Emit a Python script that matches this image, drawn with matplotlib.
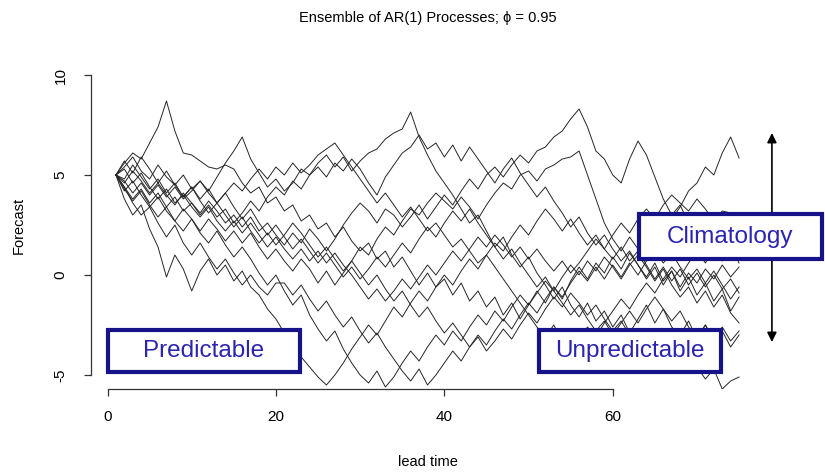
import numpy as np
import matplotlib.pyplot as plt
from matplotlib.patches import Rectangle

# lead times and ensemble members
lead = np.arange(1, 76)

s1 = [5.0, 5.6, 6.1, 5.8, 6.6, 7.4, 8.7, 7.2, 6.1, 6.0,
      5.7, 5.4, 5.3, 5.5, 5.3, 4.6, 4.1, 4.4, 3.6, 3.9,
      3.2, 3.5, 2.7, 3.0, 2.3, 2.6, 1.9, 2.4, 1.7, 1.2,
      1.6, 0.8, 1.2, 0.4, 0.9, 0.2, -0.5, 0.1, -0.6, -0.2,
      -1.0, -0.4, -1.3, -0.8, -1.6, -1.1, -2.0, -1.4, -2.2, -1.5,
      -0.8, -1.4, -0.6, -1.2, -0.3, 0.4, -0.2, 0.6, 0.1, 0.9,
      0.3, 1.1, 0.5, -0.2, 0.4, -0.5, 0.2, -0.8, -0.1, -1.0,
      -0.4, -1.3, -0.7, -1.8, -1.1]
s2 = [5.0, 5.4, 5.9, 5.2, 4.8, 5.5, 4.9, 4.5, 5.0, 4.3,
      4.7, 4.2, 4.9, 5.6, 6.2, 6.9, 5.8, 5.1, 4.4, 4.8,
      4.2, 4.6, 5.3, 5.0, 5.6, 6.0, 5.4, 5.9, 5.2, 5.7,
      6.1, 6.3, 6.8, 7.1, 7.3, 8.15, 6.9, 6.0, 5.2, 4.6,
      4.0, 3.3, 2.6, 3.0, 2.2, 1.4, 1.9, 1.0, 0.4, 0.9,
      0.1, -0.5, -1.2, -0.6, -1.5, -2.1, -1.4, -2.3, -1.8, -2.6,
      -2.0, -2.9, -2.2, -1.5, -2.4, -1.7, -2.6, -3.0, -2.3, -3.2,
      -2.5, -3.4, -2.8, -3.6, -3.0]
s3 = [5.0, 4.4, 3.8, 4.3, 3.6, 4.1, 3.4, 3.9, 3.2, 3.6,
      3.0, 3.5, 2.9, 3.3, 2.6, 3.1, 3.7, 3.2, 3.9, 4.4,
      4.0, 4.7, 4.3, 5.0, 5.4, 4.9, 5.6, 5.2, 5.8, 5.3,
      4.6, 4.0, 4.9, 5.5, 6.1, 6.4, 7.0, 6.3, 6.6, 5.9,
      6.5, 5.7, 6.4, 5.8, 5.2, 4.6, 5.3, 5.85, 5.1, 4.5,
      3.9, 4.4, 3.7, 3.1, 2.4, 2.9, 2.1, 1.5, 2.0, 1.3,
      0.7, 1.2, 0.5, -0.1, 0.6, -0.3, 0.2, -0.6, 0.1, -0.4,
      0.3, -0.2, 0.5, -0.1, 0.4]
s4 = [5.0, 4.6, 5.2, 4.7, 4.1, 4.6, 4.0, 3.5, 4.1, 3.6,
      3.1, 3.7, 3.2, 2.6, 3.0, 2.4, 2.9, 2.2, 2.6, 2.0,
      1.5, 2.1, 1.6, 2.3, 1.8, 1.2, 1.8, 2.5, 3.1, 3.6,
      3.2, 2.6, 3.3, 3.0, 2.4, 2.9, 3.5, 2.8, 3.4, 4.0,
      3.5, 4.2, 4.8, 4.3, 5.0, 5.4, 4.9, 5.5, 6.0, 5.6,
      6.2, 6.4, 6.9, 7.2, 7.8, 8.3, 7.4, 6.2, 5.8, 5.0,
      4.6, 5.8, 6.7, 6.0, 4.9, 3.8, 3.0, 3.5, 2.6, 1.9,
      2.4, 1.6, 0.9, 1.4, 0.6]
s5 = [5.0, 4.2, 4.7, 4.0, 3.4, 3.9, 3.2, 2.7, 3.3, 2.8,
      2.2, 2.8, 2.3, 1.7, 2.2, 1.6, 2.1, 1.4, 0.8, 1.3,
      0.7, 0.2, 0.8, 0.3, -0.4, 0.2, -0.5, 0.1, 0.7, 1.4,
      1.0, 1.8, 2.4, 2.0, 2.7, 3.3, 3.0, 3.6, 4.1, 3.7,
      3.3, 3.9, 3.4, 2.8, 3.5, 4.1, 4.6, 4.3, 5.0, 5.2,
      4.7, 5.3, 5.5, 5.8, 5.9, 6.2, 5.0, 3.8, 2.6, 1.8,
      1.2, 1.9, 1.3, 0.7, 1.4, 2.1, 2.8, 3.4, 4.2, 4.6,
      5.4, 5.0, 6.1, 6.9, 5.85]
s6 = [5.0, 4.3, 3.7, 4.2, 3.5, 2.9, 3.4, 2.7, 2.2, 2.8,
      2.1, 1.6, 2.2, 1.5, 0.9, 1.4, 0.8, 0.1, -0.5, 0.0,
      -0.8, -1.5, -1.0, -2.0, -2.7, -3.3, -2.8, -3.7, -4.4, -5.0,
      -5.4, -4.8, -5.6, -5.1, -4.4, -3.8, -4.3, -3.6, -3.0, -3.5,
      -2.8, -3.3, -2.6, -2.0, -2.5, -1.8, -2.3, -1.6, -1.0, -1.5,
      -0.9, -0.3, -0.8, -0.1, 0.5, 0.0, 0.7, 0.2, 0.9, 0.4,
      -0.2, 0.5, 1.0, 0.4, -0.3, 0.3, -0.5, -1.1, -0.6, -1.4,
      -0.8, -1.6, -1.0, -1.9, -2.4]
s7 = [5.0, 3.8, 3.0, 3.5, 2.3, 1.4, -0.1, 1.0, 0.3, -0.8,
      0.2, 0.8, 0.0, 0.5, -0.3, 0.2, -0.6, -1.0, -1.7, -2.2,
      -2.9, -3.5, -4.1, -4.6, -5.1, -5.5, -5.0, -4.4, -3.7, -3.1,
      -2.5, -3.0, -2.3, -1.6, -2.1, -1.4, -0.8, -1.3, -0.6, 0.0,
      -0.5, 0.2, 0.8, 0.3, 1.0, 1.6, 1.2, 1.9, 2.5, 2.0,
      2.7, 3.3, 2.8, 2.2, 2.8, 2.1, 1.5, 2.0, 1.3, 0.8,
      1.4, 0.7, 1.2, 0.5, -0.2, 0.4, -0.3, 0.3, -0.5, 0.1,
      -0.6, 0.0, -0.7, -0.2, -0.9]
s8 = [5.0, 4.4, 3.6, 3.0, 3.4, 2.6, 1.9, 2.5, 1.6, 1.0,
      1.6, 0.9, 0.3, 0.8, 0.1, -0.5, 0.0, -0.6, -1.0, -0.4,
      -0.4, -1.0, -0.5, -1.2, -1.8, -1.3, -2.0, -2.6, -2.1, -2.8,
      -3.4, -2.9, -3.6, -4.2, -4.8, -5.3, -4.7, -5.5, -5.0, -4.4,
      -3.8, -4.3, -3.6, -3.0, -3.5, -2.8, -2.2, -2.7, -2.0, -1.4,
      -1.9, -1.2, -0.6, -1.1, -0.4, 0.2, -0.3, 0.4, -0.2, 0.5,
      -0.1, 0.6, 0.0, 0.7, 1.2, 0.6, 1.1, 0.4, -0.2, 0.3,
      -0.4, 0.2, -0.5, -1.2, -0.6]
s9 = [5.0, 5.7, 5.1, 5.9, 5.3, 4.6, 5.2, 4.5, 3.9, 4.4,
      3.8, 4.3, 3.6, 4.1, 3.4, 2.8, 3.3, 2.6, 2.0, 2.5,
      1.9, 1.3, 1.8, 1.2, 0.6, 1.1, 0.5, -0.1, 0.4, -0.2,
      0.3, 0.9, 0.4, 1.0, 1.6, 1.1, 1.8, 2.4, 1.9, 2.6,
      3.2, 2.7, 3.3, 2.6, 2.0, 1.4, 0.8, 1.3, 0.6, 0.0,
      -0.6, -0.1, -0.8, -1.4, -2.0, -1.5, -2.2, -2.8, -2.3, -3.0,
      -2.4, -1.8, -2.4, -1.7, -1.1, -1.7, -2.3, -1.8, -2.6, -3.1,
      -2.5, -3.2, -2.6, -3.3, -2.8]
s10 = [5.0, 4.8, 5.5, 4.9, 4.3, 4.8, 4.1, 4.6, 3.9, 4.4,
       3.7, 3.1, 3.6, 3.0, 2.4, 2.9, 2.2, 1.6, 2.1, 1.5,
       2.0, 2.6, 2.1, 1.5, 0.9, 1.4, 0.8, 0.2, 0.7, 0.1,
       -0.5, 0.0, -0.7, -1.3, -0.8, -1.5, -2.1, -1.6, -2.3, -2.9,
       -2.4, -3.0, -3.6, -3.1, -3.8, -3.3, -2.7, -3.2, -2.5, -1.9,
       -2.4, -1.7, -1.1, -1.6, -0.9, -1.4, -2.0, -1.5, -2.2, -2.8,
       -2.3, -3.0, -3.6, -3.1, -3.7, -4.3, -3.8, -4.5, -4.0, -4.6,
       -5.2, -4.7, -5.7, -5.3, -5.1]
s11 = [5.0, 4.7, 4.1, 4.6, 4.0, 4.5, 3.9, 4.4, 3.8, 4.2,
       4.7, 4.1, 3.6, 4.1, 4.6, 4.2, 4.8, 5.3, 4.8, 5.4,
       5.0, 5.6, 5.1, 5.5, 6.0, 6.3, 6.6, 6.0, 5.4, 4.8,
       4.2, 3.6, 4.1, 3.5, 2.9, 3.4, 2.8, 2.2, 2.6, 2.0,
       1.4, 1.8, 1.2, 0.6, 1.0, 0.4, -0.2, -0.8, -1.4, -2.0,
       -2.6, -3.1, -2.5, -3.3, -3.8, -3.2, -2.6, -3.1, -2.4, -1.8,
       -1.2, -1.7, -1.0, -0.4, -0.9, -0.2, 0.4, -0.1, 0.6, 1.2,
       0.6, 1.3, 0.7, 1.4, 0.8]
s12 = [5.0, 5.3, 4.6, 5.1, 4.4, 3.8, 4.3, 3.6, 4.0, 3.4,
       2.9, 3.4, 2.7, 2.2, 2.7, 2.1, 2.6, 2.0, 1.4, 1.9,
       1.3, 0.8, 1.3, 0.7, 1.2, 0.6, 1.1, 0.5, 0.0, -0.6,
       -1.2, -0.7, -1.3, -0.8, -0.2, -0.7, -0.1, 0.5, 0.0, 0.6,
       1.2, 0.7, 1.3, 1.9, 1.4, 2.0, 1.5, 0.9, 1.4, 0.8,
       1.3, 0.7, 0.2, 0.7, 0.1, 0.6, 1.2, 1.8, 1.3, 2.0,
       2.6, 2.1, 2.8, 3.3, 2.8, 3.5, 4.0, 3.6, 3.2, 3.8,
       3.3, 2.7, 3.2, 3.1, 3.1]

members = [s1, s2, s3, s4, s5, s6, s7, s8, s9, s10, s11, s12]

title = "Ensemble of AR(1) Processes; \u03d5 = 0.95"
xticks = [0, 20, 40, 60]
yticks = [-5, 0, 5, 10]

narrow = ['Liberation Sans Narrow', 'Liberation Sans', 'DejaVu Sans']
navy = '#15128a'
textblue = '#2a24b0'

fig = plt.figure(figsize=(8.25, 4.72), dpi=100)
ax = fig.add_axes([91 / 825, (472 - 389) / 472, (764 - 91) / 825, (389 - 62) / 472])

for m in members:
    ax.plot(lead, m, color='#262626', linewidth=0.7)

ax.set_xlim(-1.96, 77.96)
ax.set_ylim(-5.7, 10.65)

# R style axes
for side in ['top', 'right']:
    ax.spines[side].set_visible(False)
ax.spines['left'].set_bounds(-5, 10)
ax.spines['bottom'].set_bounds(0, 60)
ax.set_xticks(xticks)
ax.set_yticks(yticks)
ax.set_xticklabels([str(v) for v in xticks], family=narrow, fontsize=11)
ax.set_yticklabels([str(v) for v in yticks], family=narrow, fontsize=11,
                   rotation=90, va='center')
ax.tick_params(axis='both', length=5, width=0.9, color='#333333')
ax.tick_params(axis='x', pad=10)
ax.tick_params(axis='y', pad=12)
for s in ['left', 'bottom']:
    ax.spines[s].set_linewidth(0.9)
    ax.spines[s].set_color('#333333')

fig.text(428 / 825, 1 - 18 / 472, title, ha='center', va='center',
         family=narrow, fontsize=10.5)
fig.text(428 / 825, 1 - 462 / 472, 'lead time', ha='center', va='center',
         family=narrow, fontsize=10.5)
fig.text(19 / 825, 1 - 225 / 472, 'Forecast', ha='center', va='center',
         rotation=90, family=narrow, fontsize=10.5)

# labelled boxes
boxes = [('Predictable', 0.0, 22.9, -4.85, -2.75),
         ('Unpredictable', 51.2, 72.8, -4.85, -2.75),
         ('Climatology', 63.1, 84.8, 0.8, 3.05)]
for label, x0, x1, y0, y1 in boxes:
    ax.add_patch(Rectangle((x0, y0), x1 - x0, y1 - y0, facecolor='white',
                           edgecolor=navy, linewidth=3, zorder=5, clip_on=False))
    ax.text((x0 + x1) / 2, (y0 + y1) / 2, label, ha='center', va='center',
            color=textblue, fontsize=17.5, family=['Liberation Sans', 'DejaVu Sans'],
            zorder=6, clip_on=False)

# climatology range arrow
ax.annotate('', xy=(78.9, 7.1), xytext=(78.9, -3.35),
            arrowprops=dict(arrowstyle='<|-|>', color='black', lw=1.2,
                            mutation_scale=14, shrinkA=0, shrinkB=0),
            annotation_clip=False, zorder=4)

fig.savefig('out.png', dpi=100)
